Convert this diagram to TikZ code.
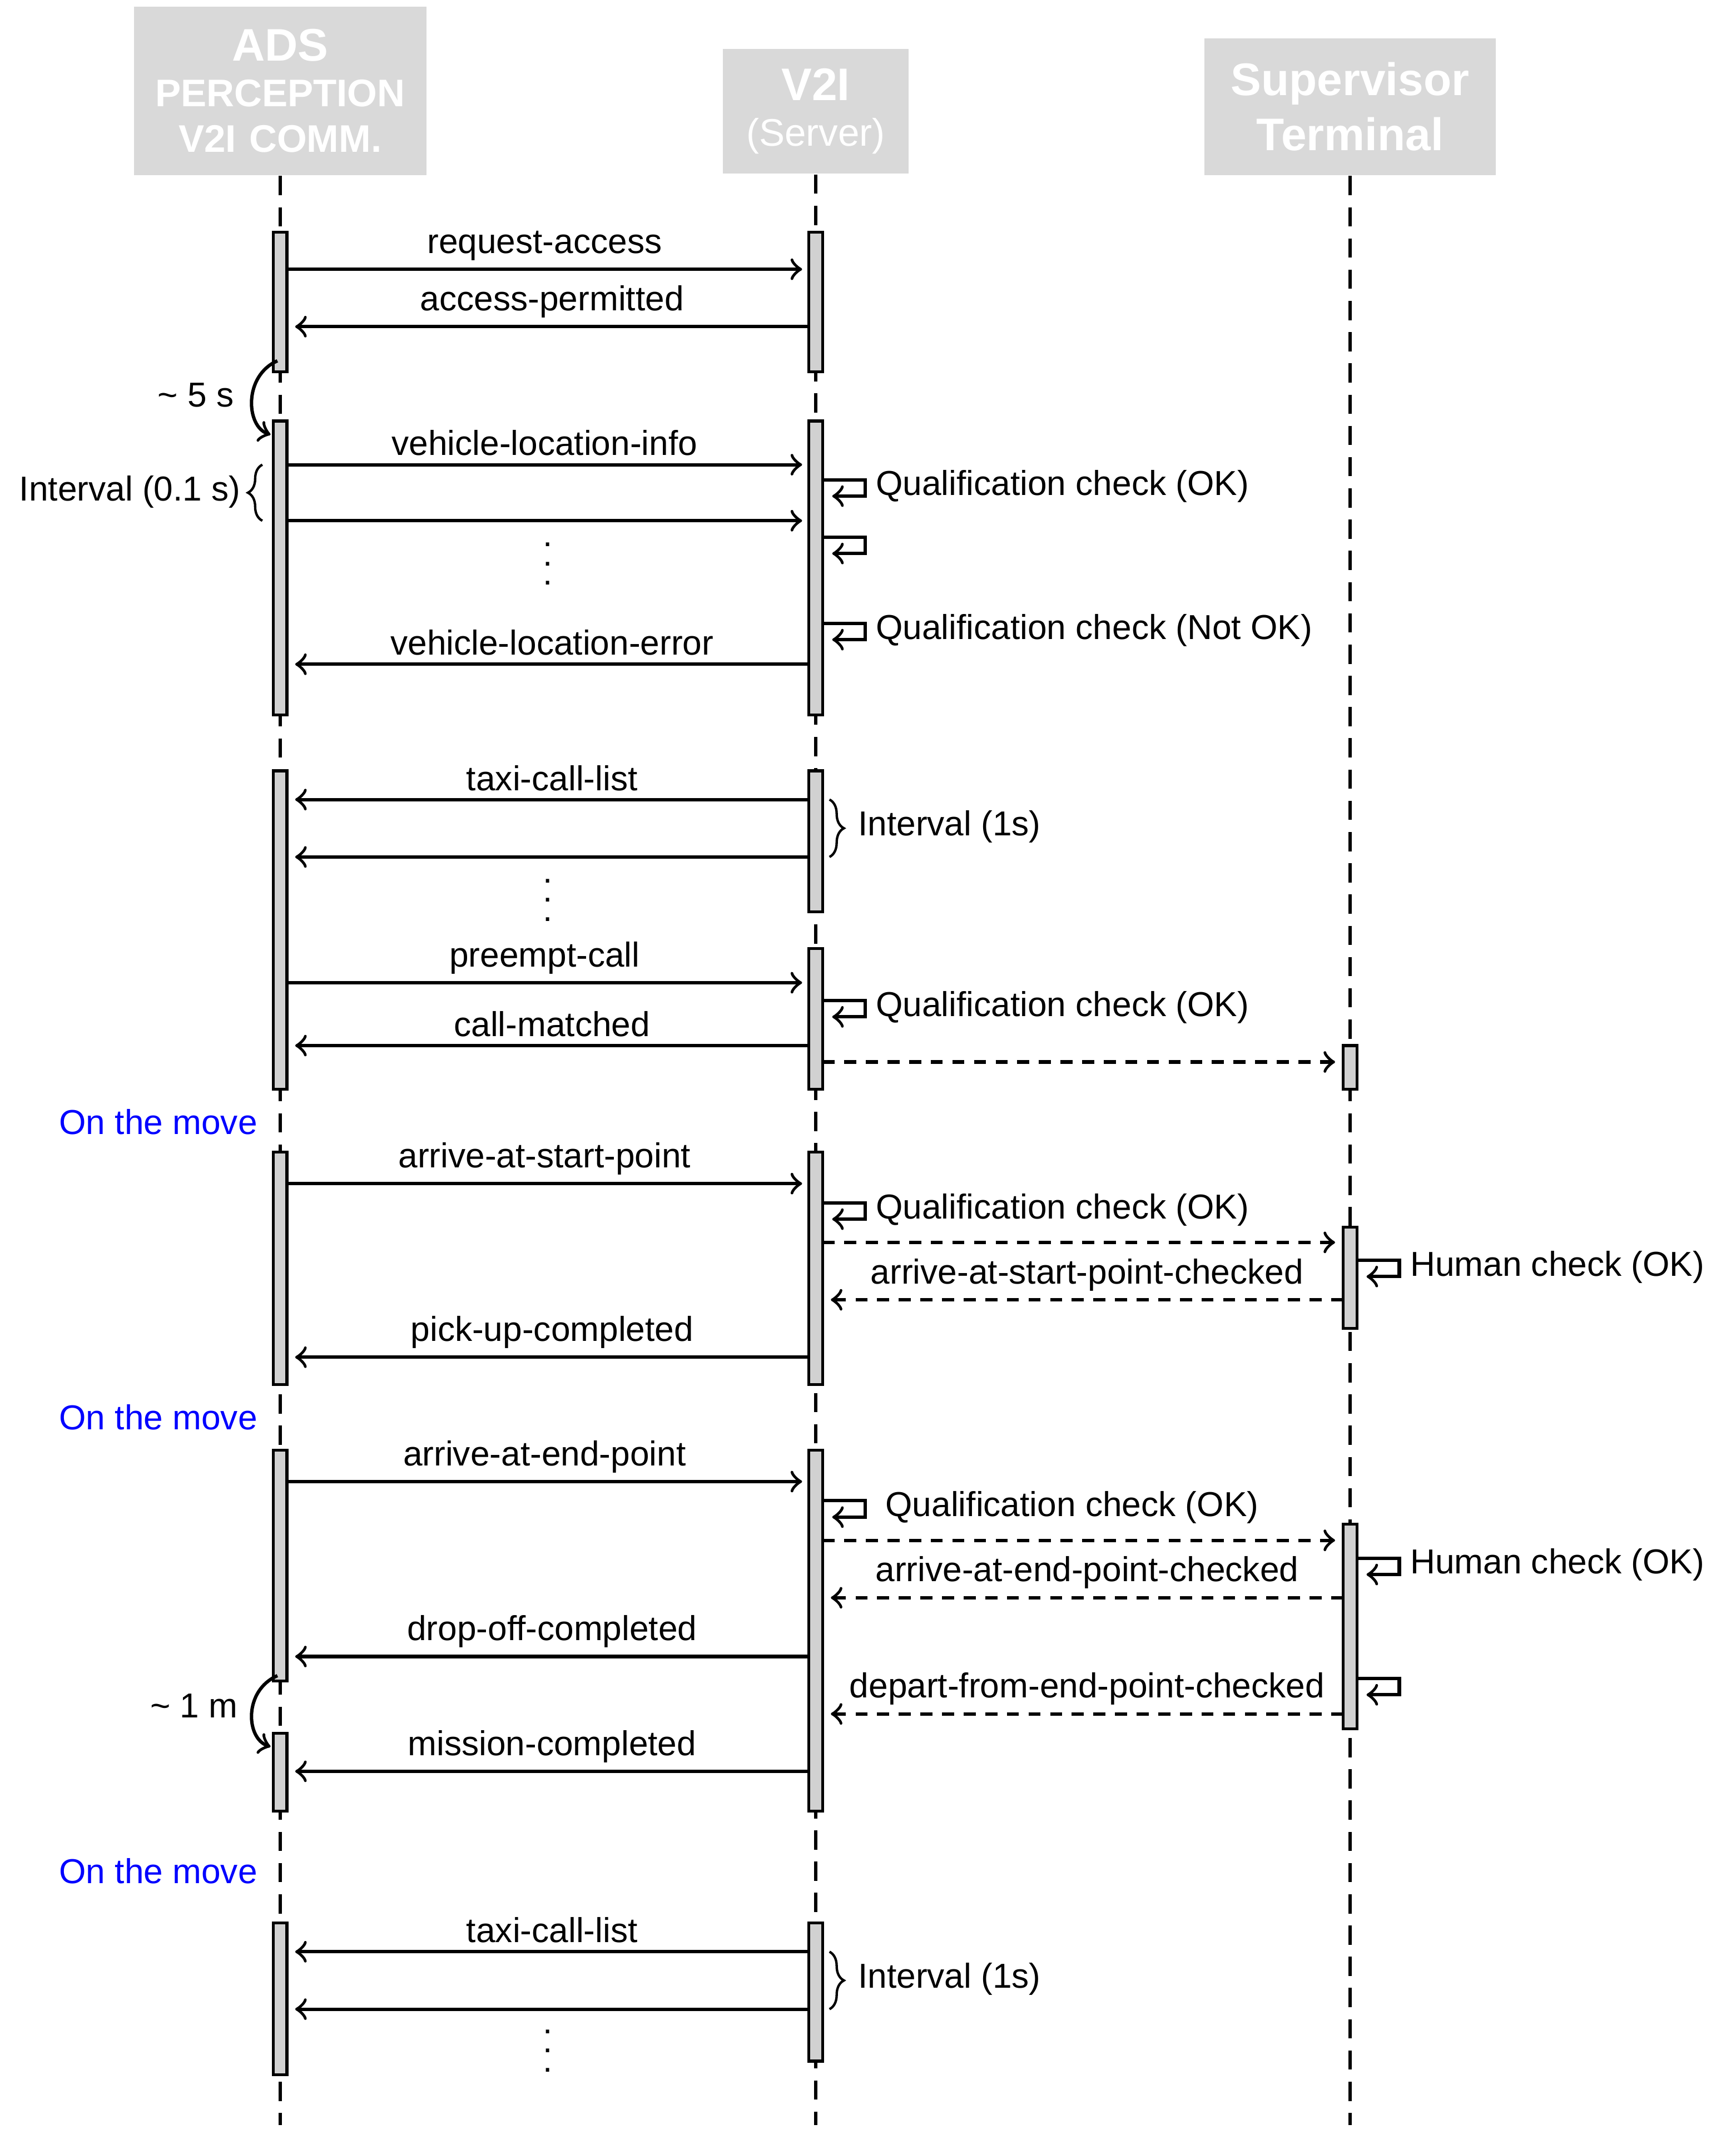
\documentclass[tikz,border=0pt]{standalone}
\usepackage{fontspec}
\setmainfont{Liberation Sans}
\usetikzlibrary{decorations.pathreplacing}

\tikzset{
    head/.style={fill=black!15,text=white,font=\bfseries\fontsize{8}{9.5}\selectfont,align=center,inner sep=0pt},
    lifeline/.style={dashed,line width=0.7pt,dash pattern=on 4pt off 2.5pt},
    bar/.style={draw=black,fill=black!18,line width=0.6pt},
    msg/.style={->,line width=0.7pt},
    reply/.style={->,line width=0.7pt,dash pattern=on 2.5pt off 2pt},
    lbl/.style={font=\fontsize{7.2}{8.6}\selectfont,inner sep=1.5pt},
    move/.style={font=\fontsize{7.2}{8.6}\selectfont,text=blue,anchor=east,inner sep=0pt},
}

\begin{document}
\begin{tikzpicture}[x=0.01cm,y=-0.01cm]
    \useasboundingbox (0,0) rectangle (1270,1576);

    % headers
    \node[head,minimum width=214\pgflinewidth,text width=2.1cm] (ads) at (205,66.5) [minimum width=2.14cm,minimum height=1.23cm] {{\fontsize{9.5}{11}\selectfont ADS}\\PERCEPTION\\V2I COMM.};
    \node[head,minimum width=1.36cm,minimum height=0.91cm] (v2i) at (597,81.5) {{\fontsize{9.5}{11}\selectfont V2I}\\{\mdseries (Server)}};
    \node[head,minimum width=2.13cm,minimum height=1cm,font=\bfseries\fontsize{9.5}{11.5}\selectfont] (sup) at (988,78) {Supervisor\\Terminal};

    % lifelines
    \coordinate (adsend) at (205,1555);
    \coordinate (v2iend) at (597,1555);
    \coordinate (supend) at (988,1555);
    \draw[lifeline] (ads.south) -- (adsend);
    \draw[lifeline] (v2i.south) -- (v2iend);
    \draw[lifeline] (sup.south) -- (supend);

    % activation bars
    \foreach \a/\b in {170/272,308/523,564/797,843/1013,1061/1230,1268/1325,1407/1518}
        \draw[bar] (200,\a) rectangle (210,\b);
    \foreach \a/\b in {170/272,308/523,564/667,694/797,843/1013,1061/1325,1407/1508}
        \draw[bar] (592,\a) rectangle (602,\b);
    \foreach \a/\b in {765/797,898/972,1115/1265}
        \draw[bar] (983,\a) rectangle (993,\b);

    % messages to V2I
    \foreach \y/\t in {197/request-access,340/vehicle-location-info,381/,719/preempt-call,866/arrive-at-start-point,1084/arrive-at-end-point} {
        \coordinate (s) at (210,\y);
        \coordinate (e) at (587,\y);
        \draw[msg] (s) -- node[lbl,above] {\t} (e);
    }
    % messages to ADS
    \foreach \y/\t in {239/access-permitted,486/vehicle-location-error,585/taxi-call-list,627/,765/call-matched,993/pick-up-completed,1212/drop-off-completed,1296/mission-completed,1428/taxi-call-list,1470/} {
        \coordinate (s) at (592,\y);
        \coordinate (e) at (216,\y);
        \draw[msg] (s) -- node[lbl,above] {\t} (e);
    }
    % V2I to supervisor
    \foreach \y in {777,909,1127} {
        \coordinate (s) at (602,\y);
        \coordinate (e) at (977,\y);
        \draw[reply] (s) -- (e);
    }
    \foreach \y/\t in {951/arrive-at-start-point-checked,1169/arrive-at-end-point-checked,1254/depart-from-end-point-checked} {
        \coordinate (s) at (983,\y);
        \coordinate (e) at (608,\y);
        \draw[reply] (s) -- node[lbl,above] {\t} (e);
    }

    % self checks
    \foreach \x/\y/\t in {602/351/Qualification check (OK),602/393/,602/456/Qualification check (Not OK),602/732/Qualification check (OK),602/880/Qualification check (OK),602/1098/{\ Qualification check (OK)},993/922/Human check (OK),993/1140/Human check (OK),993/1228/} {
        \coordinate (h1) at (\x+1,\y);
        \coordinate (h2) at (\x+31,\y);
        \coordinate (h3) at (\x+31,\y+12);
        \coordinate (h4) at (\x+7,\y+12);
        \draw[msg] (h1) -- (h2) -- (h3) -- (h4);
        \node[lbl,anchor=west] (chk) at (\x+33,\y+5) {\t};
    }

    % dots
    \foreach \y in {402,648,1490}
        \node[lbl] (dots) at (401,\y) {$\vdots$};

    % timing
    \coordinate (t1) at (203,264);
    \coordinate (t2) at (198,318);
    \draw[msg] (t1) .. controls (178,275) and (180,312) .. (t2);
    \node[lbl,anchor=east] (fives) at (177,289) {\textasciitilde\ 5 s};
    \coordinate (t3) at (203,1226);
    \coordinate (t4) at (198,1278);
    \draw[msg] (t3) .. controls (178,1237) and (180,1272) .. (t4);
    \node[lbl,anchor=east] (onem) at (180,1248) {\textasciitilde\ 1 m};

    % intervals
    \coordinate (b1) at (192,381);
    \coordinate (b2) at (192,340);
    \draw[decorate,decoration={brace,amplitude=3pt},line width=0.5pt] (b1) -- (b2);
    \node[lbl,anchor=east] (ivl) at (182,360) {Interval (0.1 s)};
    \foreach \y in {585,1428} {
        \coordinate (b1) at (607,\y);
        \coordinate (b2) at (607,\y+42);
        \draw[decorate,decoration={brace,amplitude=3pt},line width=0.5pt] (b1) -- (b2);
        \node[lbl,anchor=west] (ivs) at (622,\y+20) {Interval (1s)};
    }

    % on the move
    \foreach \y in {821,1037,1369}
        \node[move] (mv) at (189,\y) {On the move};
\end{tikzpicture}
\end{document}
